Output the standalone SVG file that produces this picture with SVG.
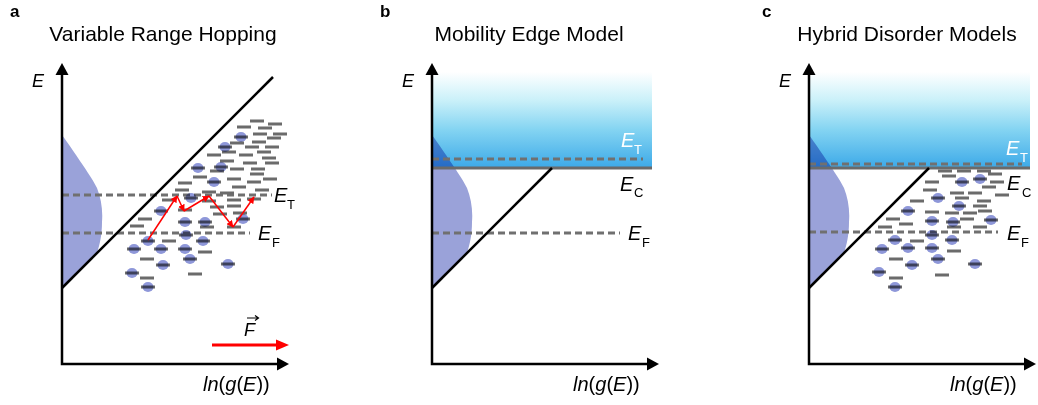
<svg xmlns="http://www.w3.org/2000/svg" width="1038" height="405" viewBox="0 0 1038 405">
<style>
text{font-family:"Liberation Sans",Arial,sans-serif;fill:#000}
.title{font-size:21px;text-anchor:middle}
.plabel{font-size:17px;font-weight:bold}
.lab{font-size:20px;font-style:italic}
.sub{font-size:13px;font-style:normal}
.wt{fill:#fff}
.axis{stroke:#000;stroke-width:2.5;fill:none}
.diag{stroke:#000;stroke-width:2.5}
.dash{stroke:#707070;stroke-width:3;stroke-dasharray:7 4;fill:none}
.ec{stroke:#6a6a6a;stroke-width:3}
.bar{stroke:#6b6b6b;stroke-width:3;fill:none}
.dot{fill:#8e97d9;mix-blend-mode:multiply}
.dos{fill:#9aa2d9;mix-blend-mode:multiply}
.hop{stroke:#f00;stroke-width:1.5;marker-end:url(#rh)}
</style>
<defs>
<linearGradient id="sky" x1="0" y1="0" x2="0" y2="1">
<stop offset="0" stop-color="#ffffff"/>
<stop offset="0.3" stop-color="#c9f0f9"/>
<stop offset="0.6" stop-color="#84d4f2"/>
<stop offset="1" stop-color="#3ca9e8"/>
</linearGradient>
<marker id="rh" viewBox="0 0 10 10" refX="9" refY="5" markerWidth="7" markerHeight="7" orient="auto" markerUnits="userSpaceOnUse"><path d="M0,0 L10,5 L0,10 z" fill="#f00"/></marker>
</defs>
<rect width="1038" height="405" fill="#fff"/>

<!-- Panel a -->
<g id="panel-a">
<text class="plabel" x="10" y="17">a</text>
<text class="title" x="163" y="41">Variable Range Hopping</text>
<path class="dos" d="M62,135 C68,143 74,152 78,158 C84,167 92,178 97,188 C101,198 103,210 102,222 C102,234 100,244 97,253 L62,288 Z"/>
<path class="dash" d="M62 195 H272 M62 233 H250"/>
<line class="diag" x1="62" y1="288" x2="273" y2="77"/>
<path class="bar" d="M250 121h14 M268 124h14 M237 127h14 M258 128h14 M253 134h14 M273 134h14 M267 138h14 M252 142h14 M230 143h14 M245 147h14 M265 147h14 M222 152h14 M257 152h14 M207 155h14 M239 155h14 M262 158h14 M220 161h14 M243 163h14 M265 163h14 M210 171h14 M230 169h14 M251 169h14 M250 174h14 M193 177h14 M227 179h14 M247 182h14 M263 179h14 M178 183h14 M232 187h14 M175 190h14 M255 190h14 M202 192h14 M220 193h14 M162 200h14 M202 201h14 M227 200h14 M247 199h14 M178 210h14 M210 207h14 M227 206h14 M213 214h14 M233 213h14 M138 219h14 M130 226h14 M200 227h14 M227 227h14 M162 241h14 M198 252h14 M140 259h14 M188 274h14 M140 278h14
M234 137h14 M218 147h14 M214 167h14 M191 168h14 M207 182h14 M184 198h14 M154 211h14 M178 222h14 M198 222h14 M236 219h14 M179 235h14 M141 241h14 M196 241h14 M127 249h14 M154 249h14 M178 249h14 M183 259h14 M156 265h14 M221 264h14 M125 273h14 M141 287h14"/>
<g id="a-dots">
<ellipse class="dot" cx="241" cy="137" rx="5.5" ry="5"/>
<ellipse class="dot" cx="225" cy="147" rx="5.5" ry="5"/>
<ellipse class="dot" cx="221" cy="167" rx="5.5" ry="5"/>
<ellipse class="dot" cx="198" cy="168" rx="5.5" ry="5"/>
<ellipse class="dot" cx="214" cy="182" rx="5.5" ry="5"/>
<ellipse class="dot" cx="191" cy="198" rx="5.5" ry="5"/>
<ellipse class="dot" cx="161" cy="211" rx="5.5" ry="5"/>
<ellipse class="dot" cx="185" cy="222" rx="5.5" ry="5"/>
<ellipse class="dot" cx="205" cy="222" rx="5.5" ry="5"/>
<ellipse class="dot" cx="243" cy="219" rx="5.5" ry="5"/>
<ellipse class="dot" cx="186" cy="235" rx="5.5" ry="5"/>
<ellipse class="dot" cx="148" cy="241" rx="5.5" ry="5"/>
<ellipse class="dot" cx="203" cy="241" rx="5.5" ry="5"/>
<ellipse class="dot" cx="134" cy="249" rx="5.5" ry="5"/>
<ellipse class="dot" cx="161" cy="249" rx="5.5" ry="5"/>
<ellipse class="dot" cx="185" cy="249" rx="5.5" ry="5"/>
<ellipse class="dot" cx="190" cy="259" rx="5.5" ry="5"/>
<ellipse class="dot" cx="163" cy="265" rx="5.5" ry="5"/>
<ellipse class="dot" cx="228" cy="264" rx="5.5" ry="5"/>
<ellipse class="dot" cx="132" cy="273" rx="5.5" ry="5"/>
<ellipse class="dot" cx="148" cy="287" rx="5.5" ry="5"/>
</g>
<g id="a-hops">
<line class="hop" x1="148" y1="240" x2="177" y2="196"/>
<line class="hop" x1="177" y1="196" x2="184" y2="211"/>
<line class="hop" x1="184" y1="211" x2="209" y2="196"/>
<line class="hop" x1="209" y1="196" x2="233" y2="227"/>
<line class="hop" x1="233" y1="227" x2="254" y2="197"/>
</g>
<path class="axis" d="M62 74 V364 H278"/>
<polygon points="55.5,75 62,63 68.5,75"/>
<polygon points="277,357.5 289,364 277,370.5"/>
<text class="lab" x="32" y="87" style="font-size:18px">E</text>
<text class="lab" x="274" y="202">E<tspan class="sub" x="287" y="209">T</tspan></text>
<text class="lab" x="258" y="240">E<tspan class="sub" x="272" y="247">F</tspan></text>
<g id="force">
<line x1="212" y1="345" x2="278" y2="345" stroke="#f00" stroke-width="3"/>
<polygon points="276,339.5 289,345 276,350.5" fill="#f00"/>
<text class="lab" x="244" y="336" style="font-size:18px">F</text>
<path d="M247 318 H258 M255 315.5 L258.5 318 L255 320.5" stroke="#000" stroke-width="1.2" fill="none"/>
</g>
<text x="203" y="391" style="font-size:20px"><tspan font-style="italic">ln</tspan>(<tspan font-style="italic">g</tspan>(<tspan font-style="italic">E</tspan>))</text>
</g>

<!-- Panel b -->
<g id="panel-b">
<text class="plabel" x="380" y="17">b</text>
<text class="title" x="529" y="41">Mobility Edge Model</text>
<rect x="432" y="72" width="220" height="96" fill="url(#sky)"/>
<path class="dos" d="M432,135 C438,143 444,152 448,158 C454,167 462,178 467,188 C471,198 473,210 472,222 C472,234 470,244 467,253 L432,288 Z"/>
<path class="dash" d="M432 159 H643 M432 233 H620"/>
<line class="ec" x1="432" y1="168" x2="652" y2="168"/>
<line class="diag" x1="432" y1="288" x2="552" y2="168"/>
<path class="axis" d="M432 74 V364 H648"/>
<polygon points="425.5,75 432,63 438.5,75"/>
<polygon points="647,357.5 659,364 647,370.5"/>
<text class="lab" x="402" y="87" style="font-size:18px">E</text>
<text class="lab wt" x="621" y="147">E<tspan class="sub wt" x="634" y="154">T</tspan></text>
<text class="lab" x="620" y="191">E<tspan class="sub" x="634" y="197">C</tspan></text>
<text class="lab" x="628" y="240">E<tspan class="sub" x="642" y="247">F</tspan></text>
<text x="573" y="391" style="font-size:20px"><tspan font-style="italic">ln</tspan>(<tspan font-style="italic">g</tspan>(<tspan font-style="italic">E</tspan>))</text>
</g>

<!-- Panel c -->
<g id="panel-c">
<text class="plabel" x="762" y="17">c</text>
<text class="title" x="907" y="41">Hybrid Disorder Models</text>
<rect x="809" y="72" width="221" height="96" fill="url(#sky)"/>
<path class="dos" d="M809,135 C815,143 821,152 825,158 C831,167 839,178 844,188 C848,198 850,210 849,222 C849,234 847,244 844,253 L809,288 Z"/>
<path class="dash" d="M809 164 H1022 M809 232 H998"/>
<line class="ec" x1="809" y1="168" x2="1030" y2="168"/>
<line class="diag" x1="809" y1="288" x2="929" y2="168"/>
<path class="bar" d="M938 171h14 M957 171h14 M977 171h14 M942 176h14 M988 174h14 M925 182h14 M990 182h14 M982 187h14 M923 190h14 M950 193h14 M968 193h14 M995 195h14 M955 198h14 M910 201h14 M977 201h14 M973 206h14 M925 212h14 M945 213h14 M963 213h14 M978 211h14 M886 219h14 M960 219h14 M899 224h14 M878 227h14 M947 227h14 M973 227h14 M910 241h14 M947 251h14 M889 259h14 M889 278h14 M935 275h14
M955 182h14 M973 179h14 M931 198h14 M901 211h14 M952 206h14 M925 221h14 M946 222h14 M984 220h14 M925 235h14 M888 240h14 M945 240h14 M875 249h14 M901 248h14 M925 248h14 M931 259h14 M905 265h14 M968 264h14 M872 272h14 M888 287h14"/>
<g id="c-dots">
<ellipse class="dot" cx="962" cy="182" rx="5.5" ry="5"/>
<ellipse class="dot" cx="980" cy="179" rx="5.5" ry="5"/>
<ellipse class="dot" cx="938" cy="198" rx="5.5" ry="5"/>
<ellipse class="dot" cx="908" cy="211" rx="5.5" ry="5"/>
<ellipse class="dot" cx="959" cy="206" rx="5.5" ry="5"/>
<ellipse class="dot" cx="932" cy="221" rx="5.5" ry="5"/>
<ellipse class="dot" cx="953" cy="222" rx="5.5" ry="5"/>
<ellipse class="dot" cx="991" cy="220" rx="5.5" ry="5"/>
<ellipse class="dot" cx="932" cy="235" rx="5.5" ry="5"/>
<ellipse class="dot" cx="895" cy="240" rx="5.5" ry="5"/>
<ellipse class="dot" cx="952" cy="240" rx="5.5" ry="5"/>
<ellipse class="dot" cx="882" cy="249" rx="5.5" ry="5"/>
<ellipse class="dot" cx="908" cy="248" rx="5.5" ry="5"/>
<ellipse class="dot" cx="932" cy="248" rx="5.5" ry="5"/>
<ellipse class="dot" cx="938" cy="259" rx="5.5" ry="5"/>
<ellipse class="dot" cx="912" cy="265" rx="5.5" ry="5"/>
<ellipse class="dot" cx="975" cy="264" rx="5.5" ry="5"/>
<ellipse class="dot" cx="879" cy="272" rx="5.5" ry="5"/>
<ellipse class="dot" cx="895" cy="287" rx="5.5" ry="5"/>
</g>
<path class="axis" d="M809 74 V364 H1025"/>
<polygon points="802.5,75 809,63 815.5,75"/>
<polygon points="1024,357.5 1036,364 1024,370.5"/>
<text class="lab" x="779" y="87" style="font-size:18px">E</text>
<text class="lab wt" x="1006" y="155">E<tspan class="sub wt" x="1020" y="162">T</tspan></text>
<text class="lab" x="1007" y="190">E<tspan class="sub" x="1022" y="197">C</tspan></text>
<text class="lab" x="1007" y="240">E<tspan class="sub" x="1021" y="247">F</tspan></text>
<text x="950" y="391" style="font-size:20px"><tspan font-style="italic">ln</tspan>(<tspan font-style="italic">g</tspan>(<tspan font-style="italic">E</tspan>))</text>
</g>
</svg>
